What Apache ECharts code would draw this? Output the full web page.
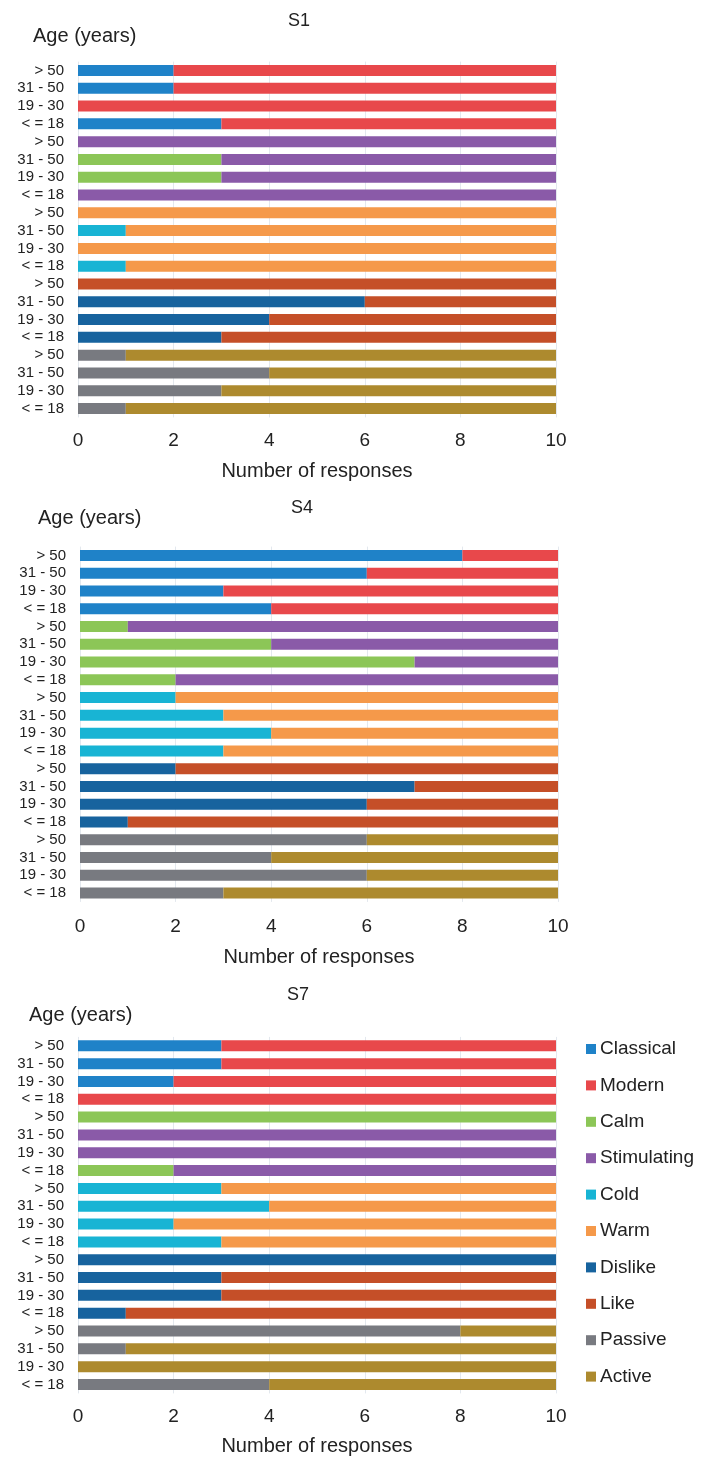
<!DOCTYPE html>
<html>
<head>
<meta charset="utf-8">
<script src="https://cdn.jsdelivr.net/npm/echarts@6/dist/echarts.min.js"></script>
<style>html,body{margin:0;padding:0;background:#fff}#c{width:711px;height:1459px}</style>
</head>
<body>
<div id="c"></div>
<script>
// ---- data ----
const ageLabels = ['> 50', '31 - 50', '19 - 30', '< = 18'];
const attributes = ['Classical','Modern','Calm','Stimulating','Cold','Warm','Dislike','Like','Passive','Active'];
const attrColors = ['#1f82c8','#e8484b','#8cc657','#8a5aa8','#18b4d4','#f5994a','#17639e','#c54f28','#787a80','#ad8a2e'];
const panelTitles = ['S1', 'S4', 'S7'];
const xTickMax = 10, xTickStep = 2;

// S1
const s1Classical = [2, 2, 0, 3];  const s1Modern = [8, 8, 10, 7];
const s1Calm = [0, 3, 3, 0];       const s1Stimulating = [10, 7, 7, 10];
const s1Cold = [0, 1, 0, 1];       const s1Warm = [10, 9, 10, 9];
const s1Dislike = [0, 6, 4, 3];    const s1Like = [10, 4, 6, 7];
const s1Passive = [1, 4, 3, 1];    const s1Active = [9, 6, 7, 9];
// S4
const s4Classical = [8, 6, 3, 4];  const s4Modern = [2, 4, 7, 6];
const s4Calm = [1, 4, 7, 2];       const s4Stimulating = [9, 6, 3, 8];
const s4Cold = [2, 3, 4, 3];       const s4Warm = [8, 7, 6, 7];
const s4Dislike = [2, 7, 6, 1];    const s4Like = [8, 3, 4, 9];
const s4Passive = [6, 4, 6, 3];    const s4Active = [4, 6, 4, 7];
// S7
const s7Classical = [3, 3, 2, 0];  const s7Modern = [7, 7, 8, 10];
const s7Calm = [10, 0, 0, 2];      const s7Stimulating = [0, 10, 10, 8];
const s7Cold = [3, 4, 2, 3];       const s7Warm = [7, 6, 8, 7];
const s7Dislike = [10, 3, 3, 1];   const s7Like = [0, 7, 7, 9];
const s7Passive = [8, 1, 0, 4];    const s7Active = [2, 9, 10, 6];

const panelData = [
  [s1Classical, s1Modern, s1Calm, s1Stimulating, s1Cold, s1Warm, s1Dislike, s1Like, s1Passive, s1Active],
  [s4Classical, s4Modern, s4Calm, s4Stimulating, s4Cold, s4Warm, s4Dislike, s4Like, s4Passive, s4Active],
  [s7Classical, s7Modern, s7Calm, s7Stimulating, s7Cold, s7Warm, s7Dislike, s7Like, s7Passive, s7Active]
];

// ---- layout ----
const layouts = [
  {left: 78, right: 155, top: 61.6, bottom: 1459 - 417.4, tickMargin: 14, nameGap: 44, titleX: 299, titleY: 21, ageX: 33, ageY: 36},
  {left: 80, right: 153, top: 546.6, bottom: 1459 - 901.9, tickMargin: 15, nameGap: 46, titleX: 302, titleY: 508.5, ageX: 38, ageY: 518},
  {left: 78, right: 155, top: 1036.9, bottom: 1459 - 1393.4, tickMargin: 14, nameGap: 43, titleX: 298, titleY: 995, ageX: 29, ageY: 1015}
];

const FONT = 'Liberation Sans, Arial, sans-serif';
const TXT = '#222';
const rowIds = [];
for (let g = 0; g < 5; g++) for (let a = 0; a < 4; a++) rowIds.push(String(g * 4 + a));

const grids = [], xAxes = [], yAxes = [], series = [], graphics = [];
layouts.forEach((L, p) => {
  grids.push({left: L.left, right: L.right, top: L.top, bottom: L.bottom, containLabel: false});
  xAxes.push({
    type: 'value', gridIndex: p, min: 0, max: xTickMax, interval: xTickStep,
    name: 'Number of responses', nameLocation: 'middle', nameGap: L.nameGap,
    nameTextStyle: {fontFamily: FONT, fontSize: 20, color: TXT},
    axisLine: {show: false}, axisTick: {show: false},
    axisLabel: {fontFamily: FONT, fontSize: 19, color: TXT, margin: L.tickMargin},
    splitLine: {show: true, lineStyle: {color: '#e3e8ee', width: 1}}
  });
  yAxes.push({
    type: 'category', gridIndex: p, inverse: true, data: rowIds,
    axisLine: {show: false}, axisTick: {show: false},
    axisLabel: {fontFamily: FONT, fontSize: 15, color: TXT, margin: 14, interval: 0,
      formatter: (v) => ageLabels[Number(v) % 4]},
    splitLine: {show: false}
  });
  attributes.forEach((name, k) => {
    const group = Math.floor(k / 2);
    const vals = panelData[p][k];
    const data = rowIds.map((_, r) => (Math.floor(r / 4) === group ? vals[r % 4] : null));
    series.push({
      type: 'bar', name: name, xAxisIndex: p, yAxisIndex: p, stack: 'panel' + p,
      barWidth: 11, data: data, itemStyle: {color: attrColors[k]},
      emphasis: {disabled: true}, animation: false
    });
  });
  graphics.push({type: 'text', x: L.titleX, y: L.titleY,
    style: {text: panelTitles[p], font: '18px ' + FONT, fill: TXT, textAlign: 'center', textVerticalAlign: 'middle'}});
  graphics.push({type: 'text', x: L.ageX, y: L.ageY,
    style: {text: 'Age (years)', font: '20px ' + FONT, fill: TXT, textAlign: 'left', textVerticalAlign: 'middle'}});
});

const chart = echarts.init(document.getElementById('c'), null, {renderer: 'canvas'});
chart.setOption({
  backgroundColor: '#fff',
  animation: false,
  grid: grids, xAxis: xAxes, yAxis: yAxes, series: series,
  graphic: graphics,
  legend: {
    orient: 'vertical', left: 586, top: 1039, padding: 0,
    itemWidth: 10, itemHeight: 10, itemGap: 16.4, icon: 'rect',
    data: attributes,
    textStyle: {fontFamily: FONT, fontSize: 19, color: TXT, lineHeight: 20, padding: [0, 0, 0, -1]}
  }
});
</script>
</body>
</html>
